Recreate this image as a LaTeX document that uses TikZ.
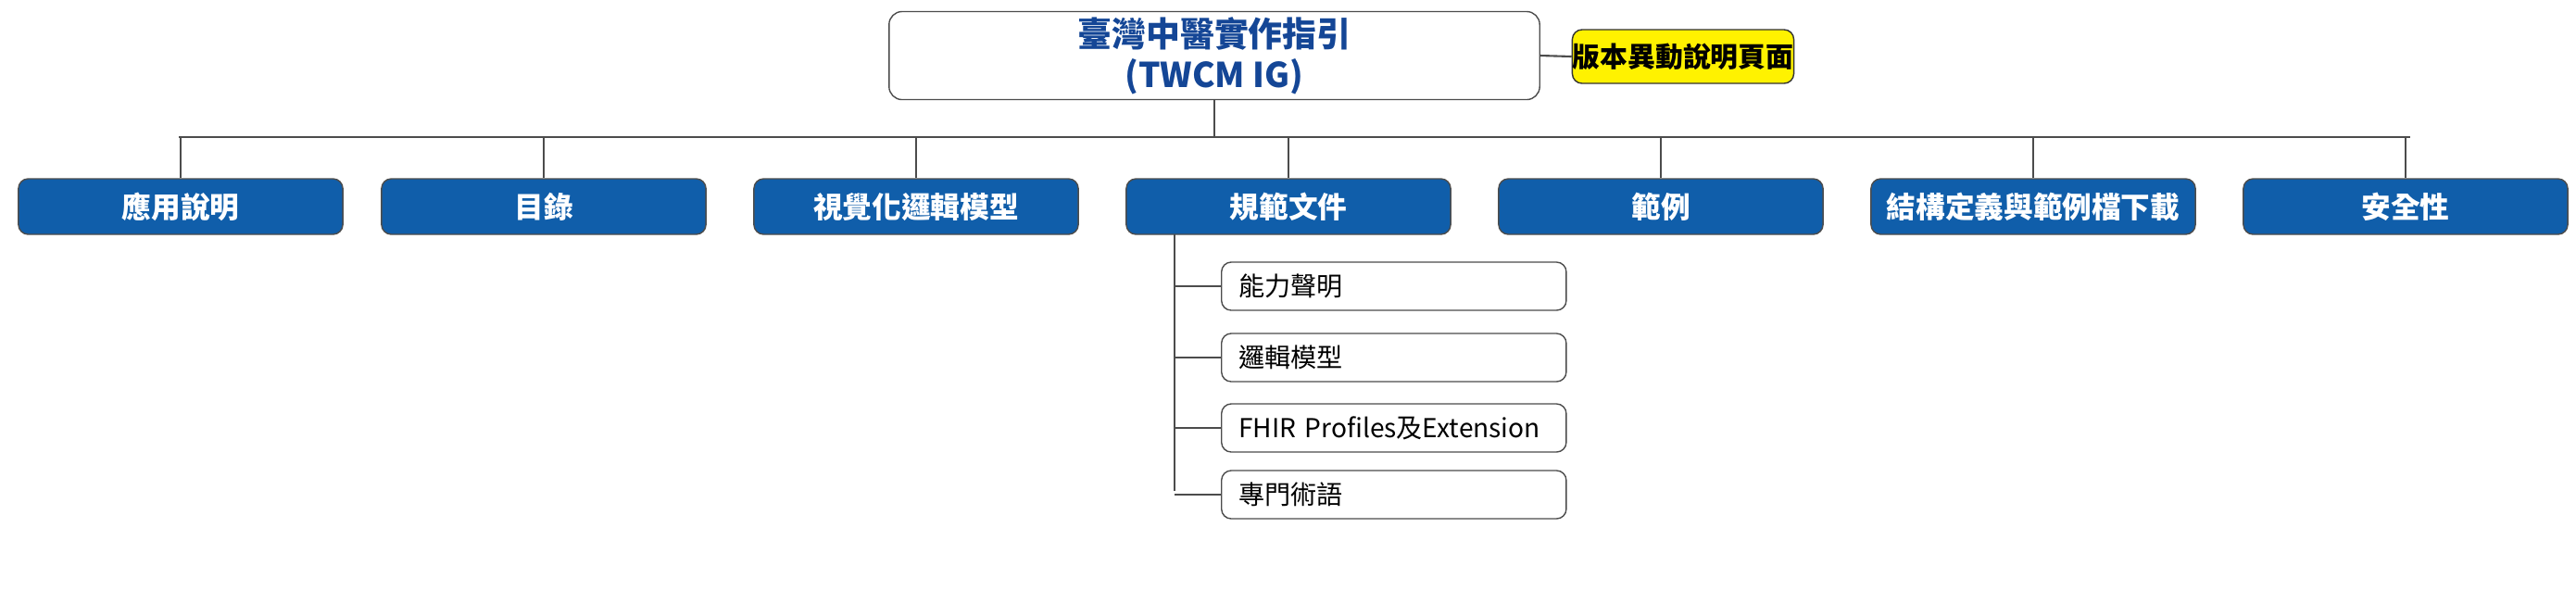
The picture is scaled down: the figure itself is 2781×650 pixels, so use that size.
\documentclass[tikz,border=0pt]{standalone}
\usepackage{fontspec}
\setmainfont{Noto Sans CJK TC}
\begin{document}
\begin{tikzpicture}[x=0.01cm,y=-0.01cm,
  blue/.style={draw=black!70,fill={rgb,255:red,16;green,94;blue,170},rounded corners=3pt,minimum width=3.5cm,minimum height=0.6cm,text=white,font=\fontsize{9pt}{10pt}\selectfont\bfseries,inner sep=0pt},
  sub/.style={draw=black!70,fill=white,rounded corners=3pt,minimum width=3.72cm,minimum height=0.52cm,anchor=west,font=\fontsize{8pt}{9pt}\selectfont,text width=3.55cm,align=left,inner sep=0pt},
  ln/.style={draw=black!70,line width=0.6pt}]
\useasboundingbox (0,0) rectangle (2781,650);
\node[draw=black!70,rounded corners=4pt,minimum width=7.02cm,minimum height=0.95cm,align=center,text={rgb,255:red,20;green,70;blue,150},font=\fontsize{10.5pt}{12.5pt}\selectfont\bfseries,inner sep=0pt] (root) at (1311,60) {臺灣中醫實作指引\\(TWCM IG)};
\node[draw=black!80,fill=yellow,rounded corners=3pt,minimum width=2.29cm,minimum height=0.58cm,font=\fontsize{8.5pt}{9pt}\selectfont\bfseries,inner sep=0pt] (ver) at (1817,61) {版本異動說明頁面};
\draw[ln] (root.east) -- (ver.west);
\coordinate (bl) at (193,148); \coordinate (br) at (2602,148);
\draw[ln] (bl) -- (br);
\draw[ln] (root.south) -- (root.south |- bl);
\foreach \n/\x/\t in {a/195/應用說明,b/587/目錄,c/989/視覺化邏輯模型,d/1391/規範文件,e/1793/範例,f/2195/結構定義與範例檔下載,g/2597/安全性}{
  \node[blue] (\n) at (\x,223) {\t};
  \draw[ln] (\n.north) -- (\n.north |- bl);
}
\coordinate (sp) at (1268,253);
\coordinate (se) at (1268,530);
\draw[ln] (sp) -- (se);
\foreach \n/\y/\t in {s1/309/能力聲明,s2/386/邏輯模型,s3/462/FHIR Profiles及Extension,s4/534/專門術語}{
  \node[sub] (\n) at (1318,\y) {\hspace{0.1cm}\t};
  \draw[ln] (\n.west) -- (sp |- \n.west);
}
\end{tikzpicture}
\end{document}
